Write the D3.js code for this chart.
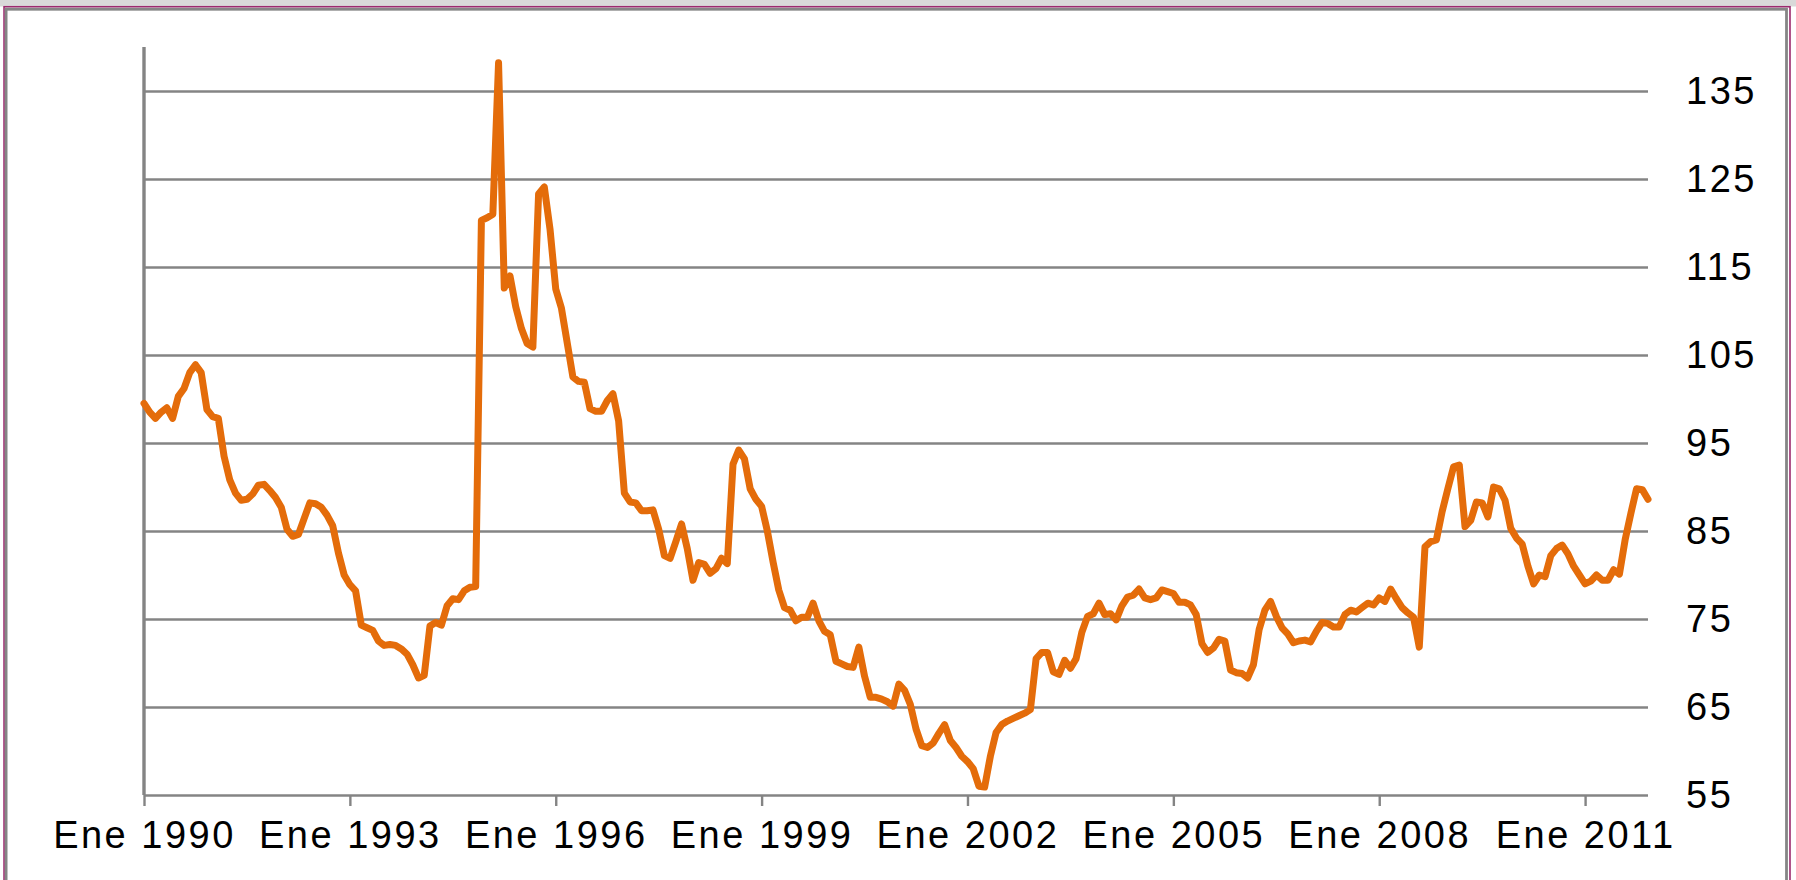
<!DOCTYPE html>
<html>
<head>
<meta charset="utf-8">
<script src="https://cdn.jsdelivr.net/npm/d3@7"></script>
<style>
  body { margin: 0; background: #fff; }
  svg { display: block; }
</style>
</head>
<body>
<div id="chart"></div>
<script>
// indice mensual, ene 1990 - dic 2011
const startYear = 1990;
const values = [
  99.5, 98.5, 97.8, 98.5, 99.0, 97.8, 100.3, 101.2, 103.0, 103.9, 103.0, 98.8,   // 1990
  98.0, 97.8, 93.5, 90.8, 89.3, 88.5, 88.6, 89.2, 90.2, 90.3, 89.6, 88.8,         // 1991
  87.7, 85.2, 84.4, 84.6, 86.4, 88.2, 88.1, 87.7, 86.8, 85.6, 82.5, 80.0,         // 1992
  78.9, 78.2, 74.3, 74.0, 73.7, 72.5, 72.0, 72.1, 72.0, 71.6, 71.0, 69.8,         // 1993
  68.3, 68.6, 74.2, 74.6, 74.3, 76.5, 77.3, 77.2, 78.2, 78.6, 78.7, 120.3,        // 1994
  120.6, 121.0, 138.2, 112.6, 114.0, 110.5, 108.0, 106.3, 105.9, 123.3, 124.1, 119.3, // 1995
  112.5, 110.3, 106.4, 102.5, 102.0, 101.9, 98.9, 98.6, 98.6, 99.8, 100.6, 97.5,  // 1996
  89.3, 88.3, 88.2, 87.3, 87.3, 87.4, 85.2, 82.2, 81.9, 83.8, 85.8, 83.0,         // 1997
  79.4, 81.4, 81.2, 80.2, 80.7, 81.9, 81.3, 92.6, 94.2, 93.2, 89.8, 88.6,         // 1998
  87.8, 85.0, 81.5, 78.3, 76.3, 76.0, 74.8, 75.2, 75.2, 76.8, 74.8, 73.6,         // 1999
  73.2, 70.2, 69.9, 69.6, 69.5, 71.8, 68.5, 66.1, 66.1, 65.9, 65.6, 65.1,         // 2000
  67.6, 66.9, 65.3, 62.5, 60.6, 60.4, 60.9, 62.0, 63.0, 61.2, 60.4, 59.4,         // 2001
  58.8, 58.0, 56.0, 55.9, 59.4, 62.1, 63.0, 63.4, 63.7, 64.0, 64.3, 64.7,         // 2002
  70.5, 71.2, 71.2, 69.0, 68.7, 70.3, 69.4, 70.5, 73.5, 75.3, 75.6, 76.8,         // 2003
  75.5, 75.6, 74.9, 76.5, 77.5, 77.7, 78.4, 77.4, 77.2, 77.4, 78.3, 78.1,         // 2004
  77.9, 76.9, 76.9, 76.6, 75.5, 72.2, 71.2, 71.7, 72.7, 72.5, 69.2, 68.9,         // 2005
  68.8, 68.3, 69.8, 73.8, 76.0, 77.0, 75.3, 74.0, 73.3, 72.3, 72.5, 72.6,         // 2006
  72.4, 73.6, 74.6, 74.5, 74.1, 74.1, 75.5, 76.0, 75.8, 76.3, 76.8, 76.6,         // 2007
  77.4, 77.0, 78.4, 77.3, 76.3, 75.7, 75.2, 71.8, 83.2, 83.8, 84.0, 87.2,         // 2008
  89.8, 92.3, 92.5, 85.5, 86.2, 88.3, 88.2, 86.6, 90.0, 89.8, 88.5, 85.3,         // 2009
  84.2, 83.5, 81.0, 79.0, 80.0, 79.8, 82.2, 83.0, 83.4, 82.4, 81.0, 80.0,         // 2010
  79.0, 79.3, 80.0, 79.4, 79.4, 80.6, 80.1, 84.0, 87.0, 89.8, 89.7, 88.6          // 2011
];
const tickYears = [1990, 1993, 1996, 1999, 2002, 2005, 2008, 2011];
const yTicks = [55, 65, 75, 85, 95, 105, 115, 125, 135];

const W = 1796, H = 880;
const plot = {left: 144, right: 1648, top: 47, bottom: 795};

const svg = d3.select("#chart")
  .append("svg")
  .attr("width", W)
  .attr("height", H);

// marco de la imagen
svg.append("rect").attr("x", 0).attr("y", 0).attr("width", W).attr("height", 6.5).attr("fill", "#d9d9d9");
svg.append("rect")
  .attr("x", 4.05).attr("y", 6.75).attr("width", 1790 - 4.05).attr("height", 900)
  .attr("fill", "none").attr("stroke", "#9c2a6e").attr("stroke-width", 1.6);
svg.append("rect")
  .attr("x", 6.1).attr("y", 9.25).attr("width", 1786.5 - 6.1).attr("height", 900)
  .attr("fill", "#fff").attr("stroke", "#858585").attr("stroke-width", 2.8);

const data = values.map((v, i) => ({m: i, v: v}));

const x = d3.scaleLinear()
  .domain([0, values.length - 1])
  .range([plot.left, plot.right]);

const y = d3.scaleLinear()
  .domain([55, 140])
  .range([plot.bottom, plot.top]);

// eje derecho con lineas de division
const yAxis = svg.append("g")
  .attr("transform", `translate(${plot.right}, 0)`)
  .call(d3.axisRight(y)
    .tickValues(yTicks)
    .tickSize(-(plot.right - plot.left))
    .tickPadding(38)
    .tickFormat(d3.format("d")));
yAxis.select(".domain").remove();
yAxis.selectAll(".tick line")
  .attr("stroke", "#848484")
  .attr("stroke-width", 2.4);
yAxis.selectAll(".tick text")
  .attr("dy", null)
  .attr("y", 12)
  .attr("fill", "#000")
  .style("font-family", "'Liberation Sans', Arial, sans-serif")
  .style("font-size", "38px")
  .style("letter-spacing", "2.5px");

// eje vertical izquierdo (solo linea)
svg.append("line")
  .attr("x1", plot.left).attr("x2", plot.left)
  .attr("y1", y(140)).attr("y2", y(55))
  .attr("stroke", "#848484")
  .attr("stroke-width", 3.4);

// eje x
const xAxis = svg.append("g")
  .attr("transform", `translate(0, ${plot.bottom})`)
  .call(d3.axisBottom(x)
    .tickValues(tickYears.map(yr => (yr - startYear) * 12))
    .tickSize(11)
    .tickSizeOuter(0)
    .tickFormat(d => "Ene " + (startYear + d / 12)));
xAxis.select(".domain").remove();
xAxis.selectAll(".tick line")
  .attr("stroke", "#848484")
  .attr("stroke-width", 2.4);
xAxis.selectAll(".tick text")
  .attr("dy", null)
  .attr("y", 53)
  .attr("fill", "#000")
  .style("font-family", "'Liberation Sans', Arial, sans-serif")
  .style("font-size", "38px")
  .style("letter-spacing", "2.5px");

const line = d3.line()
  .x(d => x(d.m))
  .y(d => y(d.v));

svg.append("path")
  .datum(data)
  .attr("d", line)
  .attr("fill", "none")
  .attr("stroke", "#e46c0a")
  .attr("stroke-width", 7)
  .attr("stroke-linejoin", "round")
  .attr("stroke-linecap", "round");
</script>
</body>
</html>
